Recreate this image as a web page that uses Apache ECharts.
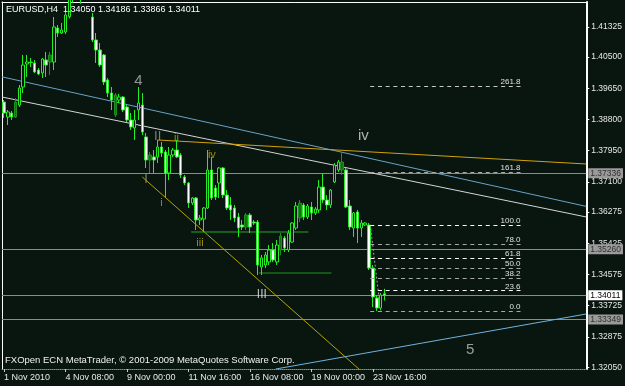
<!DOCTYPE html>
<html><head><meta charset="utf-8">
<script src="https://cdn.jsdelivr.net/npm/echarts@6/dist/echarts.min.js"></script>
<style>html,body{margin:0;padding:0;background:#08160f;}#c{width:625px;height:386px;}</style>
</head><body><div id="c"></div>
<script>
const slotCount = 152;
const opens  = [1.39275,1.38866,1.38975,1.38866,1.39193,1.39684,1.40311,1.40365,1.40338,1.40147,
1.40065,1.40420,1.40365,1.40365,1.41292,1.41155,1.41183,1.41600,1.42200,1.42400,
1.42100,1.42300,1.42150,1.41591,1.40965,1.40692,1.40556,1.39875,1.39520,1.38921,
1.39330,1.39411,1.39139,1.38785,1.38567,1.39057,1.39193,1.38322,1.37695,1.37777,
1.37777,1.38049,1.37913,1.37341,1.37831,1.37967,1.37831,1.37232,1.37068,1.36523,
1.36659,1.36060,1.36087,1.36387,1.37422,1.36932,1.37068,1.37477,1.36741,1.36469,
1.36387,1.36142,1.35924,1.35869,1.36196,1.36005,1.36005,1.34779,1.34834,1.34916,
1.35243,1.34916,1.35243,1.35569,1.35243,1.35460,1.35842,1.36114,1.36469,1.36142,
1.36414,1.36251,1.36332,1.36959,1.36605,1.36469,1.37095,1.37422,1.37640,1.37422,
1.36441,1.35842,1.36278,1.35842,1.35924,1.35924,1.34752,1.33935,1.33662,1.34050];
const highs  = [1.39330,1.39057,1.39030,1.39384,1.39738,1.40556,1.40556,1.40474,1.40420,1.40202,
1.40474,1.40638,1.40638,1.41591,1.41373,1.41428,1.41782,1.42300,1.42600,1.42820,
1.42500,1.42600,1.42400,1.41700,1.41155,1.40883,1.40583,1.39929,1.39684,1.39520,
1.39493,1.39438,1.39193,1.38975,1.39057,1.39684,1.39520,1.38431,1.37913,1.37967,
1.38240,1.38185,1.37967,1.38049,1.38022,1.38240,1.37886,1.37286,1.37095,1.36687,
1.36687,1.36196,1.36414,1.37967,1.37777,1.37014,1.37504,1.37504,1.36877,1.36687,
1.36469,1.36251,1.36060,1.36251,1.36251,1.36060,1.36060,1.35106,1.35188,1.35379,
1.35433,1.35515,1.35706,1.35624,1.35787,1.36005,1.36550,1.36605,1.36523,1.36496,
1.36550,1.36414,1.37150,1.37341,1.36741,1.36904,1.37613,1.37695,1.37886,1.37477,
1.36605,1.36278,1.36332,1.36060,1.36005,1.35978,1.34834,1.34016,1.34071,1.34186];
const lows   = [1.38839,1.38649,1.38785,1.38839,1.39139,1.39520,1.39956,1.40229,1.40065,1.40011,
1.39929,1.39956,1.40011,1.40147,1.41046,1.41128,1.41128,1.41550,1.41980,1.42010,
1.41950,1.42050,1.42030,1.40910,1.40338,1.40229,1.39738,1.39411,1.39057,1.38866,
1.39248,1.39003,1.38730,1.38512,1.38240,1.38785,1.38376,1.37477,1.37341,1.37341,
1.37613,1.37777,1.36687,1.37150,1.37777,1.37750,1.37204,1.37014,1.36387,1.36469,
1.35787,1.35924,1.35733,1.36360,1.36605,1.36605,1.36659,1.36659,1.36332,1.36060,
1.36005,1.35597,1.35787,1.35787,1.35706,1.35924,1.34561,1.34561,1.34752,1.34834,
1.34916,1.34834,1.35106,1.35188,1.35188,1.35433,1.35787,1.36005,1.36060,1.36087,
1.36060,1.36196,1.36251,1.36523,1.36332,1.36387,1.37068,1.37368,1.37286,1.36387,
1.35787,1.35597,1.35433,1.35597,1.35896,1.34698,1.33689,1.33580,1.33608,1.33866];
const closes = [1.38975,1.39003,1.38866,1.39275,1.39657,1.40283,1.40365,1.40351,1.40093,1.40038,
1.40447,1.40283,1.40556,1.41319,1.41155,1.41237,1.41646,1.42200,1.42400,1.42100,
1.42300,1.42150,1.42080,1.40965,1.40692,1.40283,1.39820,1.39520,1.39330,1.39466,
1.39411,1.39057,1.38785,1.38594,1.38785,1.39248,1.38458,1.37695,1.37831,1.37695,
1.38049,1.37886,1.37341,1.37831,1.37967,1.37777,1.37286,1.37068,1.36523,1.36659,
1.36060,1.36114,1.36387,1.37422,1.36659,1.36687,1.37477,1.36741,1.36387,1.36332,
1.36114,1.35842,1.35869,1.36196,1.35869,1.35978,1.34834,1.35025,1.35106,1.35243,
1.34970,1.35379,1.35624,1.35297,1.35706,1.35978,1.36441,1.36523,1.36142,1.36441,
1.36251,1.36360,1.36959,1.36605,1.36469,1.36877,1.37559,1.37640,1.37422,1.36414,
1.35869,1.36251,1.35842,1.35978,1.35978,1.34752,1.33962,1.33662,1.34016,1.34011];
const darkBars = [3, 12, 29, 38, 63, 72, 77, 88];

const tickIndex  = [0, 16, 32, 48, 64, 80, 96];
const tickLabels = ['1 Nov 2010','4 Nov 08:00','9 Nov 00:00','11 Nov 16:00','16 Nov 08:00','19 Nov 00:00','23 Nov 16:00'];
const yTickValues = [1.41325,1.40500,1.39650,1.38800,1.37950,1.37100,1.36275,1.35425,1.34575,1.33725,1.32875,1.32050];

const priceLevels = [1.37336, 1.35260, 1.33349];
const currentPrice = 1.34011;

const trendBlueUpper = [[-0.5, 1.39960], [151.5, 1.36430]];
const trendWhite     = [[-0.5, 1.39411], [151.5, 1.36142]];
const trendOrange    = [[40, 1.38240], [151.5, 1.37586]];
const trendYellow    = [[36, 1.37232], [93, 1.31940]];
const trendBlueLower = [[70.7, 1.32000], [151.5, 1.33499]];
const greenLine1 = [[48.7, 1.35733], [79.2, 1.35733]];
const greenLine2 = [[66.3, 1.34616], [85.2, 1.34616]];

const fibLevels = [0, 23.6, 38.2, 50.0, 61.8, 78.0, 100.0, 161.8, 261.8];
const fibLabels = ['0.0','23.6','38.2','50.0','61.8','78.0','100.0','161.8','261.8'];
const fibPrice0 = 1.33580, fibPrice100 = 1.35924;
const fibStartX = 95.3, fibEndX = 134.4;
const fibBase = [[95.3, 1.35924], [98.0, 1.33580]];

const waveText = ['4','I','II','i','ii','iii','iv','III','iv','5'];
const waveX    = [35.0, 37.0, 40.0, 41.0, 44.9, 51.0, 54.1, 67.1, 93.5, 121.3];
const waveY    = [1.39861,1.37177,1.38335,1.36523,1.38294,1.35433,1.37831,1.34016,1.38349,1.32518];

const BG = '#08160f';
const FONT = 'Liberation Sans, Arial, sans-serif';
const waveStyle = [
  {c:'#b4b4b4', s:15}, {c:'#9a9a9a', s:13}, {c:'#9a9a9a', s:13},
  {c:'#c8a800', s:11}, {c:'#c8a800', s:11}, {c:'#c8a800', s:11}, {c:'#c8a800', s:11},
  {c:'#e8e8e8', s:12}, {c:'#d8d8d8', s:15}, {c:'#c0c0c0', s:15}
];
const fibColors = ['#a8a8a8','#ffffff','#a8a8a8','#a8a8a8','#ffffff','#a8a8a8','#ffffff','#a8a8a8','#c8c8c8'];

const categories = Array.from({length: slotCount}, (_, i) => String(i));
const candleData = opens.map((o, i) => {
  const item = {value: [o, closes[i], lows[i], highs[i]]};
  if (darkBars.includes(i)) item.itemStyle = {color:'#137013', color0:'#137013', borderColor:'#1f8f1f', borderColor0:'#1f8f1f'};
  return item;
});
const tickMap = {};
tickIndex.forEach((ix, k) => tickMap[ix] = tickLabels[k]);
const showTick = (idx) => tickMap[idx] !== undefined;

const lineSeries = (data, color, extra) => Object.assign({
  type:'line', xAxisIndex:1, yAxisIndex:0, data, showSymbol:false, symbol:'none',
  silent:true, animation:false, clip:true, z:3,
  lineStyle:{color, width:1}
}, extra || {});

const fibMark = fibLevels.map((lv, k) => {
  const p = fibPrice0 + (fibPrice100 - fibPrice0) * lv / 100;
  return [
    {coord:[fibStartX, p], lineStyle:{color:fibColors[k], type:[4,3.7], width:1},
     label:{show:true, formatter:fibLabels[k]}},
    {coord:[fibEndX, p]}
  ];
});

const chart = echarts.init(document.getElementById('c'), null, {renderer:'canvas'});
chart.setOption({
  backgroundColor: BG,
  animation: false,
  textStyle: {fontFamily: FONT},
  grid: {left:2, right:37, top:2, bottom:17, containLabel:false},
  xAxis: [{
    type:'category', data:categories, boundaryGap:true, position:'bottom',
    axisLine:{show:true, onZero:false, lineStyle:{color:'#8c8c8c', type:[1,1], width:1}},
    axisTick:{show:true, alignWithLabel:true, interval:showTick, length:3, lineStyle:{color:'#c8c8c8'}},
    axisLabel:{show:true, interval:showTick, formatter:(v, i) => tickMap[i] || '', align:'left',
      color:'#e8e8e8', fontSize:9, margin:4, fontFamily:FONT},
    splitLine:{show:false}
  }, {
    type:'value', min:-0.5, max:151.5, position:'top',
    axisLine:{show:true, onZero:false, lineStyle:{color:'#ffffff', width:1}},
    axisTick:{show:false}, axisLabel:{show:false}, splitLine:{show:false}
  }],
  yAxis: [{
    type:'value', min:1.32, max:1.42, position:'right', scale:true,
    axisLine:{show:true, onZero:false, lineStyle:{color:'#ffffff', width:2}},
    axisTick:{show:true, customValues:yTickValues, length:3, lineStyle:{color:'#ffffff'}},
    axisLabel:{show:true, customValues:yTickValues, formatter:(v) => v.toFixed(5),
      color:'#e8e8e8', fontSize:8.5, margin:5, fontFamily:FONT},
    splitLine:{show:false}
  }, {
    type:'value', min:0, max:1, position:'left',
    axisLine:{show:true, onZero:false, lineStyle:{color:'#ffffff', width:1}},
    axisTick:{show:false}, axisLabel:{show:false}, splitLine:{show:false}
  }],
  series: [
    {
      type:'candlestick', xAxisIndex:0, yAxisIndex:0, data:candleData, barWidth:3,
      animation:false, silent:true, z:4,
      itemStyle:{color:BG, color0:'#ffffff', borderColor:'#22ee22', borderColor0:'#22ee22', borderWidth:1},
      markLine:{
        symbol:'none', silent:true, animation:false, z:2, precision:5,
        lineStyle:{color:'#8c8c8c', width:1, type:'solid'},
        label:{show:true, position:'end', distance:2, fontSize:8.5, fontFamily:FONT,
          color:'#303030', backgroundColor:'#9a9a9a', padding:[1,2,0,2],
          formatter:(p) => Number(p.value).toFixed(5)},
        data: priceLevels.map(v => ({yAxis:v})).concat([
          {yAxis:currentPrice, label:{color:'#000000', backgroundColor:'#ffffff'}}
        ])
      }
    },
    lineSeries(trendBlueUpper, '#67a3c9'),
    lineSeries(trendWhite, '#d4d4d4'),
    lineSeries(trendOrange, '#d2a20a'),
    lineSeries(trendYellow, '#b8a400'),
    lineSeries(trendBlueLower, '#72b2dc'),
    lineSeries(greenLine1, '#26a826'),
    lineSeries(greenLine2, '#1e961e'),
    lineSeries(fibBase, '#a0a0a0', {lineStyle:{color:'#a0a0a0', width:1, type:[2,2]}}),
    {
      type:'line', xAxisIndex:1, yAxisIndex:0, data:[], silent:true, animation:false, z:3,
      markLine:{
        symbol:'none', silent:true, animation:false, precision:5,
        label:{show:true, position:'insideEndTop', distance:0, color:'#e0e0e0', fontSize:8, fontFamily:FONT},
        data: fibMark
      }
    },
    {
      type:'scatter', xAxisIndex:1, yAxisIndex:0, symbolSize:1, silent:true, animation:false, z:6,
      itemStyle:{color:'transparent'},
      data: waveText.map((t, k) => ({
        value:[waveX[k], waveY[k]],
        label:{show:true, position:'inside', formatter:t, color:waveStyle[k].c, fontSize:waveStyle[k].s, fontFamily:FONT}
      }))
    }
  ],
  graphic: [
    {type:'text', left:6, top:5, silent:true, z:10,
     style:{text:'EURUSD,H4  1.34050 1.34186 1.33866 1.34011', fill:'#ffffff', font:'9px ' + FONT}},
    {type:'text', left:5, top:355, silent:true, z:10,
     style:{text:'FXOpen ECN MetaTrader, \u00a9 2001-2009 MetaQuotes Software Corp.', fill:'#f0f0f0', font:'9.5px ' + FONT}}
  ]
});
</script></body></html>
